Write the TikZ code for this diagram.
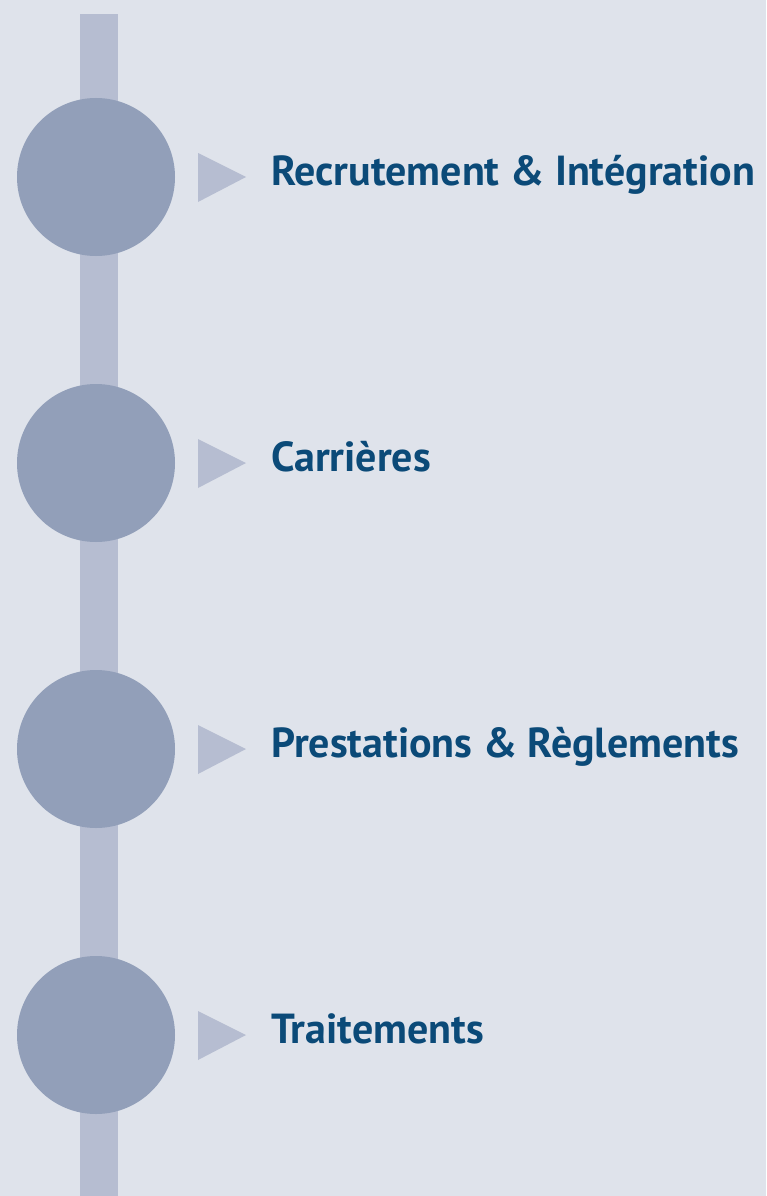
\documentclass[tikz,border=0pt]{standalone}
\usepackage{fontspec}
\setmainfont{PT Sans}
\definecolor{bgc}{HTML}{DFE3EB}
\definecolor{barc}{HTML}{B6BDD1}
\definecolor{circc}{HTML}{929FB9}
\definecolor{txtc}{HTML}{0B4A78}
\begin{document}
\begin{tikzpicture}[x=1pt,y=-1pt,
  dot/.style={circle,fill=circc,minimum size=158pt,inner sep=0pt},
  tri/.style={fill=barc},
  lbl/.style={anchor=base west,inner sep=0pt,text=txtc,font=\fontsize{42}{42}\selectfont\bfseries}]
\fill[bgc] (0,0) rectangle (766,1196);
\useasboundingbox (0,0) rectangle (766,1196);
\fill[barc] (80,14) rectangle (118,1196);
\foreach \y/\t [count=\i] in {177/Recrutement \& Intégration,463/Carrières,749/Prestations \& Règlements,1035/Traitements}{
  \node[dot] (c\i) at (96,\y) {};
  \fill[tri] (198,\y-24) -- (246,\y) -- (198,\y+25) -- cycle;
  \node[lbl] (t\i) at (271,\y+8) {\t};
}
\end{tikzpicture}
\end{document}
